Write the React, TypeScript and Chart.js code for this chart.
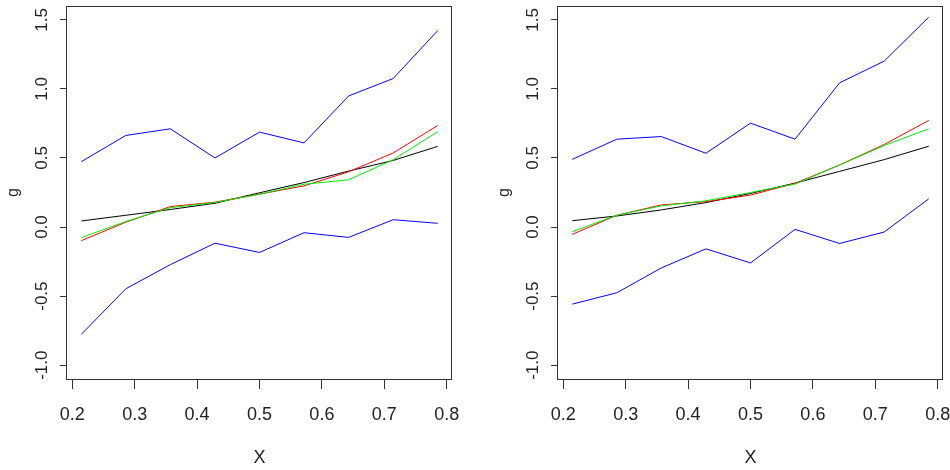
import React, { useEffect, useRef } from 'react';
import { Chart, registerables } from 'chart.js';

Chart.register(...registerables);

// x positions of the evaluation grid
const xValues = [0.2143, 0.2857, 0.3571, 0.4286, 0.5, 0.5714, 0.6429, 0.7143, 0.7857];

// axis settings (R style: ylim c(-1, 1.5) extended by 4%)
const xMin = 0.19143;
const xMax = 0.80857;
const yMin = -1.1;
const yMax = 1.6;
const xStep = 0.1;
const yStep = 0.5;
const xTitle = 'X';
const yTitle = 'g';

// Left panel
const leftUpper = [0.473, 0.663, 0.711, 0.5, 0.687, 0.609, 0.949, 1.075, 1.422];
const leftLower = [-0.777, -0.447, -0.272, -0.117, -0.184, -0.041, -0.075, 0.053, 0.027];
const leftTrue = [0.044, 0.085, 0.127, 0.172, 0.248, 0.322, 0.405, 0.482, 0.584];
const leftRed = [-0.099, 0.035, 0.148, 0.18, 0.238, 0.298, 0.4, 0.536, 0.735];
const leftGreen = [-0.077, 0.04, 0.14, 0.178, 0.237, 0.31, 0.342, 0.487, 0.69];

// Right panel
const rightUpper = [0.49, 0.636, 0.655, 0.534, 0.752, 0.636, 1.044, 1.201, 1.519];
const rightLower = [-0.558, -0.476, -0.296, -0.158, -0.26, -0.017, -0.119, -0.036, 0.204];
const rightTrue = [0.046, 0.08, 0.124, 0.177, 0.243, 0.318, 0.403, 0.488, 0.585];
const rightRed = [-0.053, 0.085, 0.16, 0.184, 0.231, 0.316, 0.45, 0.597, 0.772];
const rightGreen = [-0.034, 0.085, 0.153, 0.19, 0.25, 0.311, 0.449, 0.59, 0.711];

const toPoints = (ys: number[]) => ys.map((y, i) => ({ x: xValues[i], y }));

const boxPlugin = {
  id: 'rbox',
  afterDraw(chart: any) {
    const { ctx, chartArea } = chart;
    const { left, top, right, bottom } = chartArea;
    ctx.save();
    ctx.strokeStyle = '#333333';
    ctx.lineWidth = 1;
    ctx.strokeRect(Math.round(left) - 0.5, Math.round(top) + 0.5, Math.round(right - left), Math.round(bottom - top));
    ctx.restore();
  },
};

type PanelProps = {
  upper: number[];
  lower: number[];
  truth: number[];
  red: number[];
  green: number[];
  padLeft: number;
  padRight: number;
};

function Panel({ upper, lower, truth, red, green, padLeft, padRight }: PanelProps) {
  const ref = useRef<HTMLCanvasElement | null>(null);
  useEffect(() => {
    if (!ref.current) return;
    const line = (data: number[], color: string) => ({
      data: toPoints(data),
      borderColor: color,
      backgroundColor: color,
      borderWidth: 1,
      pointRadius: 0,
      tension: 0,
      fill: false,
    });
    const chart = new Chart(ref.current, {
      type: 'line',
      data: {
        datasets: [
          line(green, '#00ee00'),
          line(red, '#ff0000'),
          line(truth, '#000000'),
          line(upper, '#0000ff'),
          line(lower, '#0000ff'),
        ],
      },
      options: {
        animation: false,
        responsive: false,
        events: [],
        layout: { padding: { left: padLeft, right: padRight, top: 6, bottom: 0 } },
        plugins: { legend: { display: false }, tooltip: { enabled: false } },
        scales: {
          x: {
            type: 'linear',
            position: 'bottom',
            min: xMin,
            max: xMax,
            border: { display: false },
            grid: { drawOnChartArea: false, drawTicks: true, tickLength: 10, color: '#333333', lineWidth: 1 },
            ticks: {
              stepSize: xStep,
              includeBounds: false,
              autoSkip: false,
              maxRotation: 0,
              minRotation: 0,
              padding: 15,
              color: '#222222',
              font: { family: '"Liberation Sans Narrow", "Arial Narrow", "Liberation Sans", Arial, sans-serif', size: 18 },
              callback: (v: any) => Number(v).toFixed(1),
            },
            title: {
              display: true,
              text: xTitle,
              color: '#222222',
              padding: { top: 0, bottom: 1 },
              font: { family: '"Liberation Sans Narrow", "Arial Narrow", "Liberation Sans", Arial, sans-serif', size: 18 },
            },
            afterFit: (s: any) => {
              s.height = 91;
              s.paddingLeft = 0;
              s.paddingRight = 0;
            },
          },
          y: {
            type: 'linear',
            position: 'left',
            min: yMin,
            max: yMax,
            border: { display: false },
            grid: { drawOnChartArea: false, drawTicks: true, tickLength: 7, color: '#333333', lineWidth: 1 },
            ticks: {
              stepSize: yStep,
              includeBounds: false,
              autoSkip: false,
              minRotation: 90,
              maxRotation: 90,
              crossAlign: 'center',
              padding: 3,
              color: '#222222',
              font: { family: '"Liberation Sans", Arial, sans-serif', size: 17 },
              callback: (v: any) => Number(v).toFixed(1),
            },
            title: {
              display: true,
              text: yTitle,
              color: '#222222',
              padding: { top: 2, bottom: 0 },
              font: { family: '"Liberation Sans", Arial, sans-serif', size: 16 },
            },
            afterFit: (s: any) => {
              s.width = 65;
              s.paddingTop = 0;
              s.paddingBottom = 0;
            },
          },
        },
      } as any,
      plugins: [boxPlugin],
    });
    return () => chart.destroy();
  }, [upper, lower, truth, red, green, padLeft, padRight]);
  return <canvas ref={ref} width={475} height={470} style={{ display: 'block', width: 475, height: 470 }} />;
}

export default function App() {
  return (
    <div style={{ position: 'fixed', left: 0, top: 0, width: 950, height: 470, background: '#ffffff', display: 'flex' }}>
      <Panel upper={leftUpper} lower={leftLower} truth={leftTrue} red={leftRed} green={leftGreen} padLeft={2} padRight={23} />
      <Panel upper={rightUpper} lower={rightLower} truth={rightTrue} red={rightRed} green={rightGreen} padLeft={18} padRight={7} />
    </div>
  );
}
